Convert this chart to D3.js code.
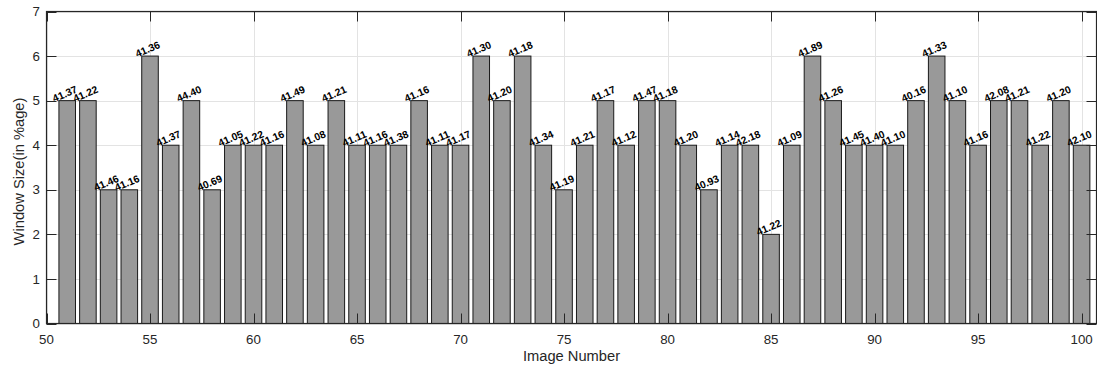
<!DOCTYPE html>
<html>
<head>
<meta charset="utf-8">
<script src="https://cdn.jsdelivr.net/npm/d3@7"></script>
<style>
  body { margin: 0; background: #fff; }
  svg { display: block; font-family: "Liberation Sans", Arial, sans-serif; }
</style>
</head>
<body>
<div id="wrapper"></div>
<script>
// Image numbers on the x axis
const imageNumbers = d3.range(51, 101);

// Window size per image (bar height)
const windowSizes = [5, 5, 3, 3, 6, 4, 5, 3, 4, 4,
                     4, 5, 4, 5, 4, 4, 4, 5, 4, 4,
                     6, 5, 6, 4, 3, 4, 5, 4, 5, 5,
                     4, 3, 4, 4, 2, 4, 6, 5, 4, 4,
                     4, 5, 6, 5, 4, 5, 5, 4, 5, 4];

// Value printed above each bar
const barLabels = ["41.37", "41.22", "41.46", "41.16", "41.36", "41.37", "44.40", "40.69", "41.05", "41.22",
                   "41.16", "41.49", "41.08", "41.21", "41.11", "41.16", "41.38", "41.16", "41.11", "41.17",
                   "41.30", "41.20", "41.18", "41.34", "41.19", "41.21", "41.17", "41.12", "41.47", "41.18",
                   "41.20", "40.93", "41.14", "42.18", "41.22", "41.09", "41.89", "41.26", "41.45", "41.40",
                   "41.10", "40.16", "41.33", "41.10", "41.16", "42.08", "41.21", "41.22", "41.20", "42.10"];

const xTicks = [50, 55, 60, 65, 70, 75, 80, 85, 90, 95, 100];
const yTicks = [0, 1, 2, 3, 4, 5, 6, 7];

const data = imageNumbers.map((n, i) => ({ n: n, v: windowSizes[i], label: barLabels[i] }));

const dim = {
    width: 1097,
    height: 369,
    left: 46.5,
    right: 1096.5,
    top: 11.5,
    bottom: 323.5,
};
const tickLen = 10;
const axisColor = "#262626";

const svg = d3.select("#wrapper").append("svg")
    .attr("width", dim.width)
    .attr("height", dim.height);

const x = d3.scaleLinear().domain([50, 100.72]).range([dim.left, dim.right]);
const y = d3.scaleLinear().domain([0, 7]).range([dim.bottom, dim.top]);

// grid lines
const grid = svg.append("g").attr("stroke", "#e3e3e3").attr("stroke-width", 1);
grid.selectAll("line.gx").data(xTicks).join("line")
    .attr("x1", d => Math.round(x(d)) + 0.5).attr("x2", d => Math.round(x(d)) + 0.5)
    .attr("y1", dim.top).attr("y2", dim.bottom);
grid.selectAll("line.gy").data(yTicks).join("line")
    .attr("y1", d => Math.round(y(d)) + 0.5).attr("y2", d => Math.round(y(d)) + 0.5)
    .attr("x1", dim.left).attr("x2", dim.right);

// bars
const barW = x(50.8) - x(50);
svg.append("g").selectAll("rect").data(data).join("rect")
    .attr("x", d => x(d.n) - barW / 2)
    .attr("y", d => y(d.v))
    .attr("width", barW)
    .attr("height", d => y(0) - y(d.v))
    .attr("fill", "#999999")
    .attr("stroke", "#1a1a1a")
    .attr("stroke-width", 1);

// labels above bars, tilted
svg.append("g").selectAll("text").data(data).join("text")
    .attr("transform", d => `translate(${x(d.n - 0.62)},${y(d.v) + 1.5}) rotate(-23)`)
    .attr("font-size", 10.3)
    .attr("font-weight", "bold")
    .attr("fill", "#000")
    .text(d => d.label);

// axes box
const box = svg.append("g").attr("stroke", axisColor).attr("fill", "none");
box.append("rect")
    .attr("x", dim.left).attr("y", dim.top)
    .attr("width", dim.right - dim.left).attr("height", dim.bottom - dim.top)
    .attr("stroke-width", 1.2);

// ticks pointing inward on all four sides
xTicks.forEach(t => {
    const px = Math.round(x(t)) + 0.5;
    box.append("line").attr("x1", px).attr("x2", px).attr("y1", dim.bottom).attr("y2", dim.bottom - tickLen);
    box.append("line").attr("x1", px).attr("x2", px).attr("y1", dim.top).attr("y2", dim.top + tickLen);
});
yTicks.forEach(t => {
    const py = Math.round(y(t)) + 0.5;
    box.append("line").attr("y1", py).attr("y2", py).attr("x1", dim.left).attr("x2", dim.left + tickLen);
    box.append("line").attr("y1", py).attr("y2", py).attr("x1", dim.right).attr("x2", dim.right - tickLen);
});

// tick labels
svg.append("g").selectAll("text").data(xTicks).join("text")
    .attr("x", d => x(d)).attr("y", dim.bottom + 20.5)
    .attr("text-anchor", "middle")
    .attr("font-size", 13.3)
    .attr("fill", axisColor)
    .text(d => d);
svg.append("g").selectAll("text").data(yTicks).join("text")
    .attr("x", dim.left - 6.5).attr("y", d => y(d) + 4.7)
    .attr("text-anchor", "end")
    .attr("font-size", 13.3)
    .attr("fill", axisColor)
    .text(d => d);

// axis titles
svg.append("text")
    .attr("x", (dim.left + dim.right) / 2).attr("y", 360.5)
    .attr("text-anchor", "middle")
    .attr("font-size", 14.7)
    .attr("fill", axisColor)
    .text("Image Number");
svg.append("text")
    .attr("transform", `translate(23.5,${(dim.top + dim.bottom) / 2 + 4}) rotate(-90)`)
    .attr("text-anchor", "middle")
    .attr("font-size", 14.7)
    .attr("fill", axisColor)
    .text("Window Size(in %age)");
</script>
</body>
</html>
